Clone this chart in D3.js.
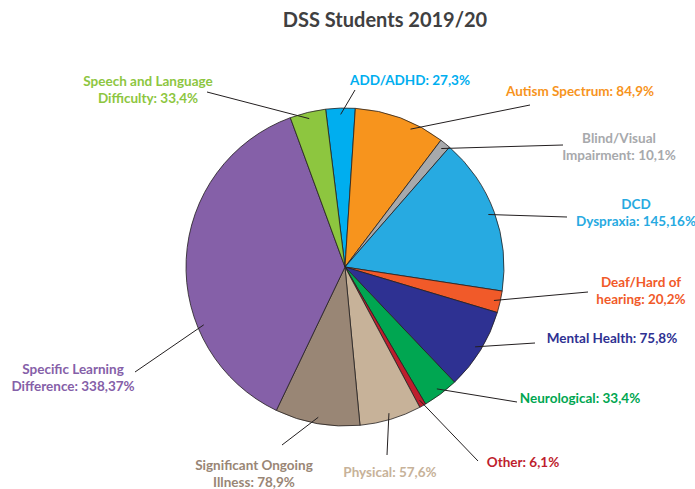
<!DOCTYPE html>
<html>
<head>
<meta charset="utf-8">
<script src="https://cdn.jsdelivr.net/npm/d3@7"></script>
<style>
  html, body { margin: 0; padding: 0; background: #fff; }
  svg { display: block; }
  text { font-family: Lato, "Open Sans", sans-serif; font-weight: bold; }
</style>
</head>
<body>
<svg id="chart" width="695" height="489"></svg>
<script>
// ---- data ----
const title = "DSS Students 2019/20";
const categories = [
  ["ADD/ADHD"],
  ["Autism Spectrum"],
  ["Blind/Visual", "Impairment"],
  ["DCD", "Dyspraxia"],
  ["Deaf/Hard of", "hearing"],
  ["Mental Health"],
  ["Neurological"],
  ["Other"],
  ["Physical"],
  ["Significant Ongoing", "Illness"],
  ["Specific Learning", "Difference"],
  ["Speech and Language", "Difficulty"]
];
const values = [27, 84, 10, 145, 20, 75, 33, 6, 57, 78, 338, 33];

// ---- styles / layout ----
const colors = ["#00aeef", "#f7941d", "#a7a9ac", "#27aae1", "#f15a29", "#2e3192",
                "#00a651", "#be1e2d", "#c7b299", "#998675", "#8560a8", "#8dc63f"];
// label anchor (text centre x, first baseline y), leader outer end,
// and angular offset (deg) of the leader's inner end from the slice mid-angle
const labelLayout = [
  {x: 410, y: 85,  lx: 355, ly: 90,  da: 0},
  {x: 580, y: 96,  lx: 530, ly: 105, da: 5},
  {x: 619, y: 143, lx: 563, ly: 145, da: 0},
  {x: 636, y: 209, lx: 567, ly: 217, da: 0},
  {x: 641, y: 287, lx: 588, ly: 292, da: 0},
  {x: 612, y: 343, lx: 535, ly: 343, da: 0},
  {x: 580, y: 403, lx: 517, ly: 402, da: 0},
  {x: 523, y: 467, lx: 478, ly: 461, da: 0},
  {x: 390, y: 477, lx: 387, ly: 455, da: 0},
  {x: 254, y: 470, lx: 282, ly: 445, da: 0},
  {x: 73,  y: 374, lx: 135, ly: 372, da: -25},
  {x: 148, y: 86,  lx: 207, ly: 92,  da: 0}
];
const cx = 345, cy = 267, R = 159;
const startDeg = -7;

const svg = d3.select("#chart");
const total = d3.sum(values);
const data = values.map((v, i) => ({v, i}));

svg.append("text")
  .attr("x", 385).attr("y", 27)
  .attr("text-anchor", "middle")
  .attr("font-size", 20)
  .attr("fill", "#404041")
  .text(title);

const pie = d3.pie().value(d => d.v).sort(null)
  .startAngle(startDeg * Math.PI / 180)
  .endAngle((startDeg + 360) * Math.PI / 180);
const arcs = pie(data);
const arc = d3.arc().innerRadius(0).outerRadius(R);

function innerPoint(d) {
  const a = (d.startAngle + d.endAngle) / 2 + labelLayout[d.data.i].da * Math.PI / 180;
  const r = R * 0.96;
  return [cx + r * Math.sin(a), cy - r * Math.cos(a)];
}

const g = svg.append("g").attr("transform", `translate(${cx},${cy})`);
g.selectAll("path.slice").data(arcs).join("path")
  .attr("class", "slice")
  .attr("d", arc)
  .attr("fill", d => colors[d.data.i])
  .attr("stroke", "#231f20")
  .attr("stroke-width", 0.8)
  .attr("stroke-linejoin", "round");

// leader lines
svg.selectAll("line.leader").data(arcs).join("line")
  .attr("class", "leader")
  .attr("x1", d => innerPoint(d)[0])
  .attr("y1", d => innerPoint(d)[1])
  .attr("x2", d => labelLayout[d.data.i].lx)
  .attr("y2", d => labelLayout[d.data.i].ly)
  .attr("stroke", "#231f20")
  .attr("stroke-width", 1);

// labels
const labels = svg.selectAll("text.lbl").data(arcs).join("text")
  .attr("class", "lbl")
  .attr("text-anchor", "middle")
  .attr("font-size", 13.5)
  .attr("fill", d => colors[d.data.i])
  .attr("x", d => labelLayout[d.data.i].x)
  .attr("y", d => labelLayout[d.data.i].y);

labels.each(function(d) {
  const lines = categories[d.data.i].slice();
  const pct = Math.round(d.data.v / total * 100);
  lines[lines.length - 1] = lines[lines.length - 1] + ": " + d.data.v + "," + pct + "%";
  const t = d3.select(this);
  lines.forEach((s, k) => {
    t.append("tspan")
      .attr("x", labelLayout[d.data.i].x)
      .attr("dy", k === 0 ? 0 : 17)
      .text(s);
  });
});
</script>
</body>
</html>
